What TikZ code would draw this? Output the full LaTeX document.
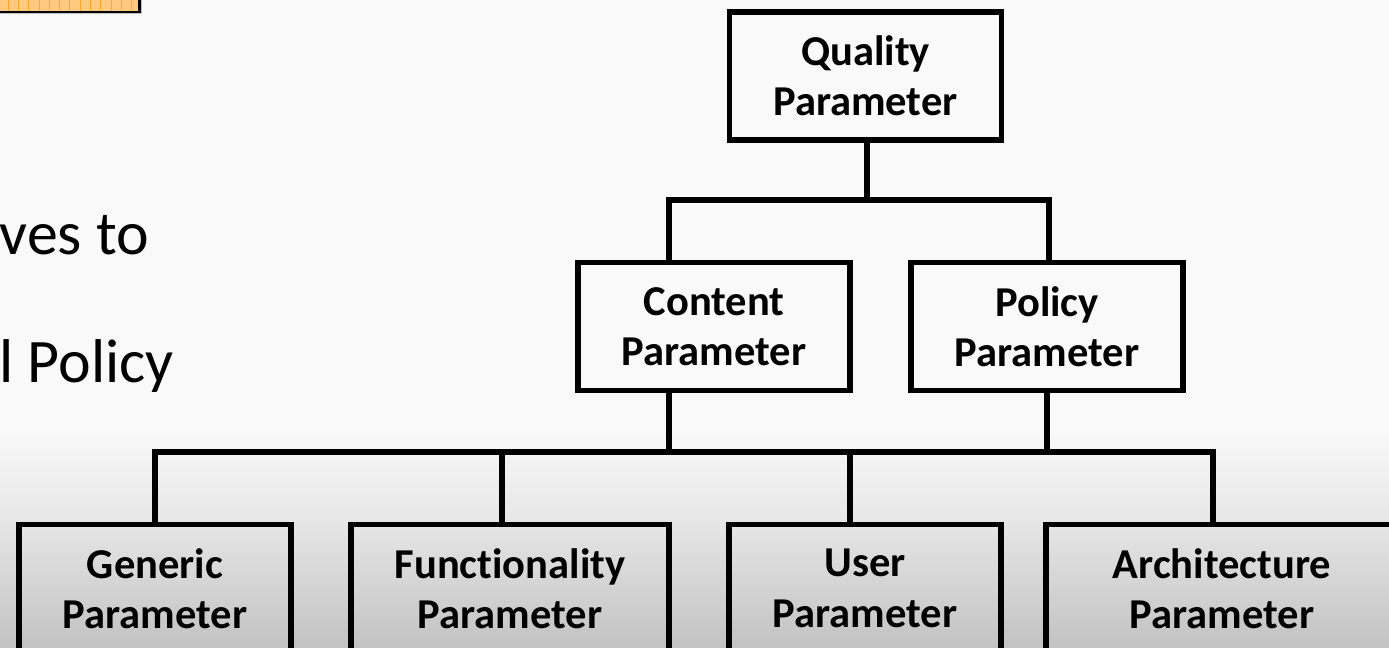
\documentclass[tikz,border=0pt]{standalone}
\usepackage{fontspec}
\setmainfont{Carlito}[Ligatures=NoCommon]
\definecolor{PageTop}{HTML}{F9F9F9}
\definecolor{PageMid}{HTML}{E6E6E6}
\definecolor{PageLow}{HTML}{C2C2C2}
\definecolor{TabFill}{HTML}{FFC97F}
\definecolor{TabGrid}{HTML}{FBA82C}
\tikzset{
  parambox/.style={draw=black, line width=4.1pt, align=center, inner sep=0pt,
    minimum width=272*0.75pt, minimum height=128*0.75pt,
    font=\fontsize{31.9}{37.8}\selectfont\bfseries},
  wire/.style={line width=4.1pt, color=black},
  bodytext/.style={anchor=base east, inner sep=0pt, font=\fontsize{46.4}{55}\selectfont}
}
\begin{document}
\begin{tikzpicture}[x=0.75pt, y=-0.75pt]

 \clip (0,0) rectangle (1389,648);

 %%%%%%%%%% Page background %%%%%%%%%%
 \fill [color=PageTop] (0,0) rectangle (1389,430);
 \shade [top color=PageTop, bottom color=PageMid] (0,430) rectangle (1389,522);
 \shade [top color=PageMid, bottom color=PageLow] (0,522) rectangle (1389,648);

 %%%%%%%%%% Orange tab in the corner %%%%%%%%%%
 \fill [color=black!25] (0,0) rectangle (141.5,14.5);
 \fill [color=TabFill] (0,0) rectangle (138,11);
 \foreach \i in {0,...,12}
 {
   \draw [line width=0.6pt, color=TabGrid] (8+\i*10.3,0) -- (8+\i*10.3,11);
 }
 \draw [line width=2.2pt, color=black] (0,12) -- (139.5,12) -- (139.5,0);

 %%%%%%%%%% Cut off text %%%%%%%%%%
 \node [bodytext] (line1) at (149,255) {ves to};
 \node [bodytext] (line2) at (174,383) {l Policy};

 %%%%%%%%%% Parameter boxes %%%%%%%%%%
 \node [parambox] (quality) at (865.5,76) {Quality\\Parameter};
 \node [parambox] (content) at (714,326.5) {Content\\Parameter};
 \node [parambox] (policy) at (1047,326.5) {Policy\\Parameter};
 \node [parambox] (generic) at (155,588.5) {Generic\\Parameter};
 \node [parambox, minimum width=318*0.75pt] (functionality) at (510,588.5) {Functionality\\Parameter};
 \node [parambox] (user) at (865,588.5) {User\\Parameter};
 \node [parambox, minimum width=352*0.75pt] (architecture) at (1222,588.5) {Architecture\\Parameter};

 %%%%%%%%%% Junctions on the bars %%%%%%%%%%
 \coordinate (top0) at (867,200);
 \coordinate (top1) at (669,200);
 \coordinate (top2) at (1049,200);
 \coordinate (bar0) at (669,452);
 \coordinate (bar1) at (1047,452);
 \coordinate (bar2) at (155,452);
 \coordinate (bar3) at (502,452);
 \coordinate (bar4) at (850,452);
 \coordinate (bar5) at (1213,452);

 %%%%%%%%%% Connectors %%%%%%%%%%
 \draw [wire] (top0 |- quality.south) -- (top0) ;
 \draw [wire] (top1 |- content.north) -- (top1) -- (top2) -- (top2 |- policy.north) ;
 \draw [wire] (bar0 |- content.south) -- (bar0) ;
 \draw [wire] (bar1 |- policy.south) -- (bar1) ;
 \draw [wire] (bar2 |- generic.north) -- (bar2) -- (bar5) -- (bar5 |- architecture.north) ;
 \draw [wire] (bar3) -- (bar3 |- functionality.north) ;
 \draw [wire] (bar4) -- (bar4 |- user.north) ;

\end{tikzpicture}
\end{document}
